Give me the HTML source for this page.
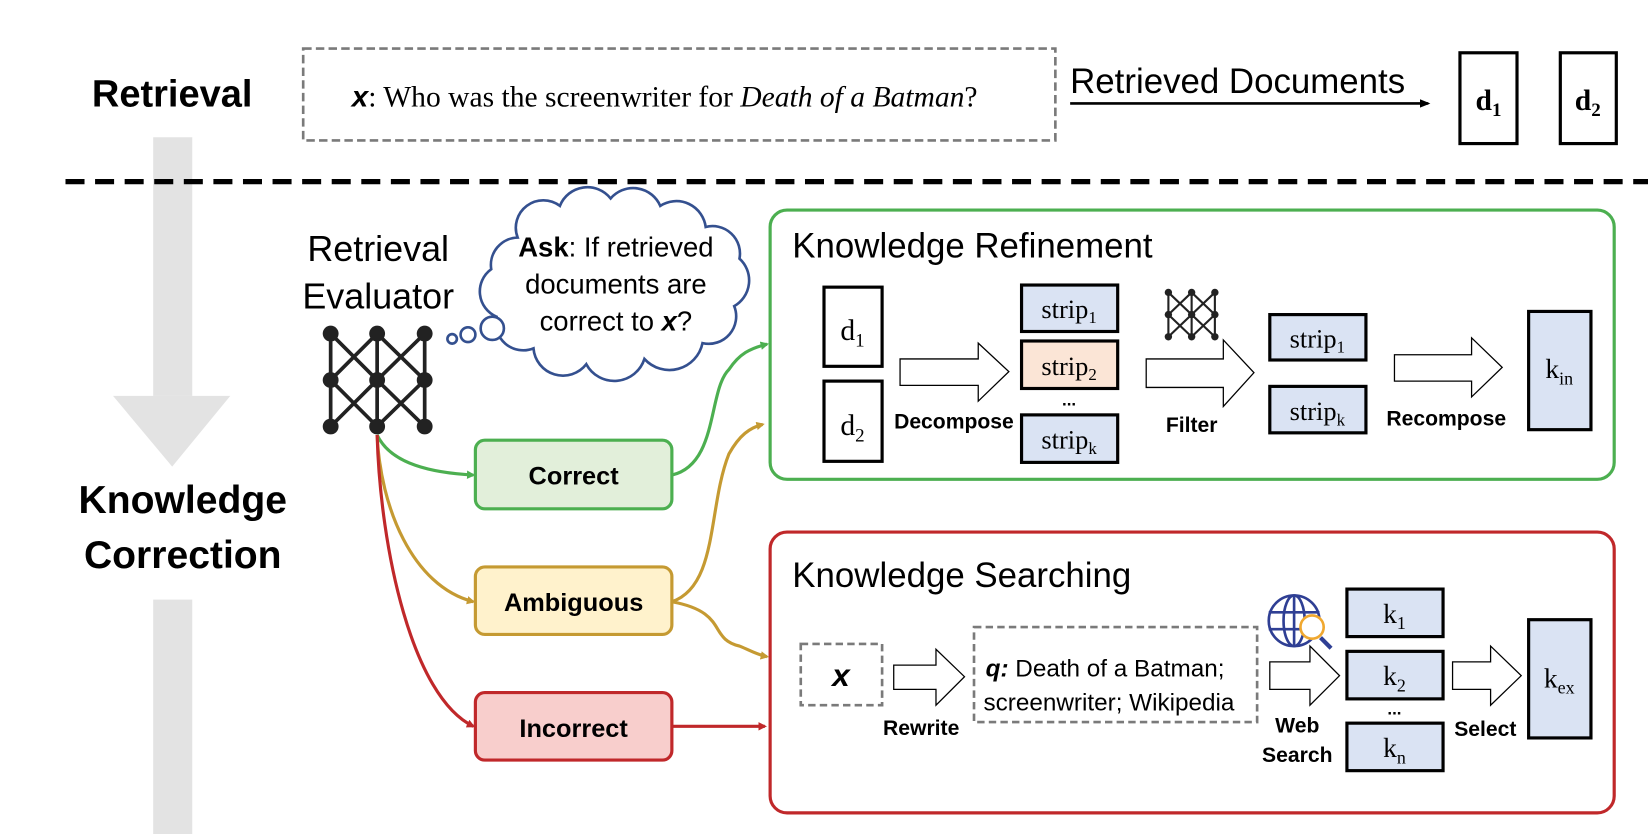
<!DOCTYPE html>
<html><head><meta charset="utf-8"><style>
html,body{margin:0;padding:0;background:#fff;}
svg{display:block;}
text{font-family:"Liberation Sans","DejaVu Sans",sans-serif;}
.s{font-family:"Liberation Serif",serif;}
.b{font-weight:bold;}
</style></head><body>
<svg width="1648" height="834" viewBox="0 0 1560 790" preserveAspectRatio="none" xmlns="http://www.w3.org/2000/svg">
<defs>
<marker id="ag" markerWidth="8" markerHeight="8" refX="6" refY="4" orient="auto" markerUnits="userSpaceOnUse"><path d="M0,0 L8,4 L0,8 Z" fill="#4caf50"/></marker>
<marker id="ay" markerWidth="8" markerHeight="8" refX="6" refY="4" orient="auto" markerUnits="userSpaceOnUse"><path d="M0,0 L8,4 L0,8 Z" fill="#c59a32"/></marker>
<marker id="ar" markerWidth="8" markerHeight="8" refX="6" refY="4" orient="auto" markerUnits="userSpaceOnUse"><path d="M0,0 L8,4 L0,8 Z" fill="#c0282a"/></marker>
<marker id="ab" markerWidth="10" markerHeight="10" refX="8" refY="5" orient="auto" markerUnits="userSpaceOnUse"><path d="M0,1 L10,5 L0,9 Z" fill="#000"/></marker>
</defs>

<rect x="145" y="130" width="37" height="245" fill="#e3e3e3"/>
<polygon points="107,375 218,375 163,442" fill="#e3e3e3"/>
<rect x="145" y="568" width="37" height="222" fill="#e3e3e3"/>

<text x="163" y="101" font-size="36" class="b" text-anchor="middle">Retrieval</text>
<text x="173" y="486" font-size="37" class="b" text-anchor="middle">Knowledge</text>
<text x="173" y="538" font-size="37" class="b" text-anchor="middle">Correction</text>

<rect x="287" y="46" width="712" height="87" fill="none" stroke="#7a7a7a" stroke-width="2.5" stroke-dasharray="8,4"/>
<text x="333" y="101" font-size="28" class="s"><tspan font-family="Liberation Sans,sans-serif" font-weight="bold" font-style="italic">x</tspan>: Who was the screenwriter for <tspan font-style="italic">Death of a Batman</tspan>?</text>
<text x="1013" y="88" font-size="33">Retrieved Documents</text>
<line x1="1013" y1="98" x2="1352" y2="98" stroke="#000" stroke-width="2.5" marker-end="url(#ab)"/>
<rect x="1382" y="50" width="54" height="86" fill="#fff" stroke="#000" stroke-width="3"/>
<text x="1409" y="104" font-size="28" class="s b" text-anchor="middle">d<tspan font-size="18" dy="6">1</tspan></text>
<rect x="1477" y="50" width="53" height="86" fill="#fff" stroke="#000" stroke-width="3"/>
<text x="1503" y="104" font-size="28" class="s b" text-anchor="middle">d<tspan font-size="18" dy="6">2</tspan></text>

<line x1="62" y1="172" x2="1560" y2="172" stroke="#000" stroke-width="5" stroke-dasharray="18,10"/>

<text x="358" y="247" font-size="34" text-anchor="middle">Retrieval</text>
<text x="358" y="292" font-size="34" text-anchor="middle">Evaluator</text>
<g stroke="#222" stroke-width="3.5">
<line x1="313" y1="316" x2="313" y2="404"/><line x1="357" y1="316" x2="357" y2="404"/><line x1="402" y1="316" x2="402" y2="404"/>
<line x1="313" y1="316" x2="357" y2="360"/><line x1="357" y1="316" x2="313" y2="360"/><line x1="357" y1="316" x2="402" y2="360"/><line x1="402" y1="316" x2="357" y2="360"/>
<line x1="313" y1="360" x2="357" y2="404"/><line x1="357" y1="360" x2="313" y2="404"/><line x1="357" y1="360" x2="402" y2="404"/><line x1="402" y1="360" x2="357" y2="404"/>
</g>
<g fill="#222">
<circle cx="313" cy="316" r="7.5"/><circle cx="357" cy="316" r="7.5"/><circle cx="402" cy="316" r="7.5"/>
<circle cx="313" cy="360" r="7.5"/><circle cx="357" cy="360" r="7.5"/><circle cx="402" cy="360" r="7.5"/>
<circle cx="313" cy="404" r="7.5"/><circle cx="357" cy="404" r="7.5"/><circle cx="402" cy="404" r="7.5"/>
</g>

<path d="M490,225 A26,26 0 0 1 530,195 A28,28 0 0 1 578,188 A28,28 0 0 1 625,195 A28,28 0 0 1 668,215 A26,26 0 0 1 700,245 A28,28 0 0 1 695,290 A26,26 0 0 1 665,325 A32,32 0 0 1 610,340 A30,30 0 0 1 555,345 A28,28 0 0 1 505,330 A26,26 0 0 1 470,300 A26,26 0 0 1 465,255 A26,26 0 0 1 490,225 Z" fill="#fff" stroke="#34508f" stroke-width="2.5"/>
<circle cx="428" cy="321" r="4.5" fill="none" stroke="#34508f" stroke-width="2.5"/>
<circle cx="443" cy="317" r="7" fill="none" stroke="#34508f" stroke-width="2.5"/>
<circle cx="466" cy="311" r="11" fill="#fff" stroke="#34508f" stroke-width="2.5"/>
<text x="583" y="243" font-size="26" text-anchor="middle"><tspan class="b">Ask</tspan>: If retrieved</text>
<text x="583" y="278" font-size="26" text-anchor="middle">documents are</text>
<text x="583" y="313" font-size="26" text-anchor="middle">correct to <tspan font-weight="bold" font-style="italic">x</tspan>?</text>

<path d="M357,412 C370,440 410,448 448,450" fill="none" stroke="#4caf50" stroke-width="3" marker-end="url(#ag)"/>
<path d="M357,412 C360,480 390,555 448,570" fill="none" stroke="#c59a32" stroke-width="3" marker-end="url(#ay)"/>
<path d="M357,412 C360,520 390,660 448,688" fill="none" stroke="#c0282a" stroke-width="3" marker-end="url(#ar)"/>
<path d="M636,450 C680,440 670,370 690,350 C700,335 710,330 726,326" fill="none" stroke="#4caf50" stroke-width="3" marker-end="url(#ag)"/>
<path d="M636,570 C680,555 670,480 690,430 C700,412 710,405 722,402" fill="none" stroke="#c59a32" stroke-width="3" marker-end="url(#ay)"/>
<path d="M636,570 C690,580 670,605 700,612 C710,616 716,620 726,622" fill="none" stroke="#c59a32" stroke-width="3" marker-end="url(#ay)"/>
<line x1="636" y1="688" x2="724" y2="688" stroke="#c0282a" stroke-width="3" marker-end="url(#ar)"/>

<rect x="450" y="417" width="186" height="65" rx="9" fill="#e2efda" stroke="#4caf50" stroke-width="3"/>
<text x="543" y="459" font-size="24" class="b" text-anchor="middle">Correct</text>
<rect x="450" y="537" width="186" height="64" rx="9" fill="#fff2cc" stroke="#c59a32" stroke-width="3"/>
<text x="543" y="579" font-size="24" class="b" text-anchor="middle">Ambiguous</text>
<rect x="450" y="656" width="186" height="64" rx="9" fill="#f8cecc" stroke="#c0282a" stroke-width="3"/>
<text x="543" y="698" font-size="24" class="b" text-anchor="middle">Incorrect</text>

<rect x="729" y="199" width="799" height="255" rx="16" fill="none" stroke="#4caf50" stroke-width="3"/>
<text x="750" y="244" font-size="33">Knowledge Refinement</text>
<rect x="780" y="272" width="55" height="75" fill="#fff" stroke="#000" stroke-width="3"/>
<text x="807" y="322" font-size="28" class="s" text-anchor="middle">d<tspan font-size="18" dy="6">1</tspan></text>
<rect x="780" y="361" width="55" height="76" fill="#fff" stroke="#000" stroke-width="3"/>
<text x="807" y="412" font-size="28" class="s" text-anchor="middle">d<tspan font-size="18" dy="6">2</tspan></text>
<path d="M852,340 L926,340 L926,325 L955,352 L926,380 L926,365 L852,365Z" fill="#fff" stroke="#000" stroke-width="1.2"/>
<text x="903" y="406" font-size="20" class="b" text-anchor="middle">Decompose</text>
<rect x="967" y="270" width="91" height="44" fill="#dae3f3" stroke="#000" stroke-width="3"/>
<text x="1012" y="301" font-size="25" class="s" text-anchor="middle">strip<tspan font-size="16" dy="5">1</tspan></text>
<rect x="967" y="323" width="91" height="45" fill="#fbe5d6" stroke="#000" stroke-width="3"/>
<text x="1012" y="355" font-size="25" class="s" text-anchor="middle">strip<tspan font-size="16" dy="5">2</tspan></text>
<text x="1012" y="384" font-size="16" class="b" text-anchor="middle">...</text>
<rect x="967" y="393" width="91" height="45" fill="#dae3f3" stroke="#000" stroke-width="3"/>
<text x="1012" y="425" font-size="25" class="s" text-anchor="middle">strip<tspan font-size="16" dy="5">k</tspan></text>
<g stroke="#222" stroke-width="2">
<line x1="1106" y1="277" x2="1106" y2="319"/><line x1="1128" y1="277" x2="1128" y2="319"/><line x1="1150" y1="277" x2="1150" y2="319"/>
<line x1="1106" y1="277" x2="1150" y2="319"/><line x1="1150" y1="277" x2="1106" y2="319"/>
<line x1="1106" y1="298" x2="1128" y2="277"/><line x1="1128" y1="319" x2="1150" y2="298"/>
<line x1="1106" y1="298" x2="1128" y2="319"/><line x1="1128" y1="277" x2="1150" y2="298"/>
</g>
<g fill="#222"><circle cx="1106" cy="277" r="3.5"/><circle cx="1128" cy="277" r="3.5"/><circle cx="1150" cy="277" r="3.5"/><circle cx="1106" cy="298" r="3.5"/><circle cx="1128" cy="298" r="3.5"/><circle cx="1150" cy="298" r="3.5"/><circle cx="1106" cy="319" r="3.5"/><circle cx="1128" cy="319" r="3.5"/><circle cx="1150" cy="319" r="3.5"/></g>
<path d="M1085,340 L1158,340 L1158,322 L1187,353 L1158,385 L1158,367 L1085,367Z" fill="#fff" stroke="#000" stroke-width="1.2"/>
<text x="1128" y="409" font-size="20" class="b" text-anchor="middle">Filter</text>
<rect x="1202" y="298" width="91" height="43" fill="#dae3f3" stroke="#000" stroke-width="3"/>
<text x="1247" y="329" font-size="25" class="s" text-anchor="middle">strip<tspan font-size="16" dy="5">1</tspan></text>
<rect x="1202" y="366" width="91" height="44" fill="#dae3f3" stroke="#000" stroke-width="3"/>
<text x="1247" y="398" font-size="25" class="s" text-anchor="middle">strip<tspan font-size="16" dy="5">k</tspan></text>
<path d="M1320,336 L1393,336 L1393,320 L1422,348 L1393,376 L1393,361 L1320,361Z" fill="#fff" stroke="#000" stroke-width="1.2"/>
<text x="1369" y="403" font-size="20" class="b" text-anchor="middle">Recompose</text>
<rect x="1447" y="295" width="59" height="112" fill="#dae3f3" stroke="#000" stroke-width="3"/>
<text x="1476" y="358" font-size="26" class="s" text-anchor="middle">k<tspan font-size="17" dy="6">in</tspan></text>

<rect x="729" y="504" width="799" height="266" rx="16" fill="none" stroke="#c0282a" stroke-width="3"/>
<text x="750" y="556" font-size="33">Knowledge Searching</text>
<rect x="758" y="610" width="77" height="58" fill="#fff" stroke="#7a7a7a" stroke-width="2.5" stroke-dasharray="7,4"/>
<text x="796" y="650" font-size="30" font-weight="bold" font-style="italic" text-anchor="middle">x</text>
<path d="M846,630 L886,630 L886,615 L913,641 L886,668 L886,653 L846,653Z" fill="#fff" stroke="#000" stroke-width="1.2"/>
<text x="872" y="696" font-size="20" class="b" text-anchor="middle">Rewrite</text>
<rect x="922" y="594" width="268" height="90" fill="#fff" stroke="#7a7a7a" stroke-width="2.5" stroke-dasharray="7,4"/>
<text x="933" y="641" font-size="23"><tspan font-weight="bold" font-style="italic">q:</tspan>  Death of a Batman;</text>
<text x="931" y="673" font-size="23">screenwriter; Wikipedia</text>
<g fill="none" stroke="#2f3f94" stroke-width="2.5">
<circle cx="1225" cy="588" r="24"/>
<ellipse cx="1225" cy="588" rx="10" ry="24"/>
<line x1="1225" y1="564" x2="1225" y2="612"/>
<line x1="1201" y1="580" x2="1249" y2="580"/><line x1="1201" y1="596" x2="1249" y2="596"/>
<line x1="1250" y1="604" x2="1260" y2="614" stroke-width="4"/>
</g>
<circle cx="1242" cy="594" r="11" fill="#fff" stroke="#f0a830" stroke-width="2.5"/>
<path d="M1202,627 L1240,627 L1240,612 L1268,640 L1240,668 L1240,653 L1202,653Z" fill="#fff" stroke="#000" stroke-width="1.2"/>
<text x="1228" y="694" font-size="20" class="b" text-anchor="middle">Web</text>
<text x="1228" y="722" font-size="20" class="b" text-anchor="middle">Search</text>
<rect x="1275" y="558" width="91" height="45" fill="#dae3f3" stroke="#000" stroke-width="3"/>
<text x="1320" y="590" font-size="26" class="s" text-anchor="middle">k<tspan font-size="17" dy="6">1</tspan></text>
<rect x="1275" y="617" width="91" height="45" fill="#dae3f3" stroke="#000" stroke-width="3"/>
<text x="1320" y="649" font-size="26" class="s" text-anchor="middle">k<tspan font-size="17" dy="6">2</tspan></text>
<text x="1320" y="677" font-size="16" class="b" text-anchor="middle">...</text>
<rect x="1275" y="685" width="91" height="45" fill="#dae3f3" stroke="#000" stroke-width="3"/>
<text x="1320" y="717" font-size="26" class="s" text-anchor="middle">k<tspan font-size="17" dy="6">n</tspan></text>
<path d="M1375,627 L1411,627 L1411,612 L1440,640 L1411,668 L1411,653 L1375,653Z" fill="#fff" stroke="#000" stroke-width="1.2"/>
<text x="1406" y="697" font-size="20" class="b" text-anchor="middle">Select</text>
<rect x="1447" y="587" width="59" height="112" fill="#dae3f3" stroke="#000" stroke-width="3"/>
<text x="1476" y="651" font-size="26" class="s" text-anchor="middle">k<tspan font-size="17" dy="6">ex</tspan></text>
</svg>
</body></html>
